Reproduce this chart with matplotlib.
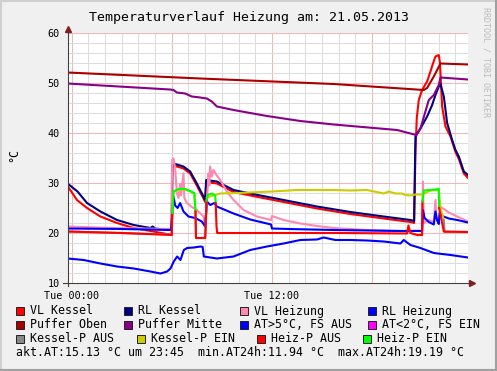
import numpy as np
import matplotlib
matplotlib.use("Agg")
import matplotlib.pyplot as plt
from matplotlib.patches import Rectangle
from matplotlib.lines import Line2D

# ---- Daten (Stunden ab 00:00, Werte in °C) ----
vlk_t = [-0.25, 0.32, 0.92, 1.72, 2.72, 3.72, 4.72, 5.72, 6.0, 6.03, 6.1, 6.7, 7.1, 7.5, 7.9, 8.0, 8.06,
         8.7, 9.7, 10.7, 12.7, 14.7, 16.7, 18.7, 20.3, 20.52, 20.6, 20.68, 20.8, 21.0, 21.3, 21.5, 21.65,
         21.8, 22.0, 22.07, 22.12, 22.2, 22.4, 22.7, 23.0, 23.2, 23.5, 23.75]
vlk_v = [29.4, 26.6, 25.0, 23.3, 22.0, 21.0, 20.4, 19.8, 19.6, 33.2, 33.5, 32.9, 31.9, 29.5, 26.9, 26.2, 30.2,
         29.9, 28.2, 27.5, 26.2, 24.9, 23.8, 22.9, 22.2, 22.0, 36.0, 43.0, 46.6, 48.6, 50.3, 52.3, 53.9,
         55.3, 55.6, 54.0, 50.6, 45.3, 41.3, 39.3, 36.2, 34.8, 31.9, 31.0]

rlk_t = [-0.25, 0.35, 0.92, 1.72, 2.72, 3.72, 4.72, 4.85, 5.0, 5.72, 6.0, 6.03, 6.1, 6.7, 7.1, 7.5, 7.9, 8.0,
         8.06, 8.7, 9.7, 10.7, 12.7, 14.7, 16.7, 18.7, 20.3, 20.52, 20.6, 20.9, 21.3, 21.6, 21.8, 22.0,
         22.1, 22.3, 22.5, 22.8, 23.0, 23.2, 23.5, 23.75]
rlk_v = [29.9, 28.3, 26.0, 24.3, 22.6, 21.6, 21.0, 21.3, 20.9, 20.6, 20.6, 33.5, 33.9, 33.3, 32.3, 29.9, 27.3, 26.6,
         30.6, 30.3, 28.6, 27.9, 26.6, 25.3, 24.2, 23.3, 22.6, 22.4, 39.3, 40.9, 43.3, 45.6, 47.6, 49.3,
         49.8, 47.3, 42.0, 38.6, 36.6, 35.3, 32.3, 31.6]

vlh_t = [-0.25, 2.5, 5.95, 6.03, 6.1, 6.2, 6.3, 6.4, 6.5, 6.55, 6.7, 6.75, 6.9, 7.2, 7.5, 7.9, 8.0, 8.1, 8.2,
         8.25, 8.3, 8.4, 8.5, 8.7, 8.9, 9.3, 9.7, 10.3, 11.1, 11.95, 12.0, 12.7, 13.7, 14.7, 15.7, 17.7,
         19.7, 21.0, 21.05, 21.1, 21.4, 21.7, 21.8, 21.85, 22.0, 22.1, 22.3, 22.6, 23.1, 23.75]
vlh_v = [21.3, 21.0, 20.8, 34.6, 34.9, 33.0, 28.0, 27.0, 29.8, 27.5, 31.9, 27.0, 26.0, 25.2, 24.6, 23.3, 21.3, 26.0,
         31.9, 29.5, 33.3, 31.3, 32.6, 31.5, 30.6, 28.3, 26.6, 24.6, 23.3, 22.6, 23.4, 22.6, 21.9, 21.4,
         21.0, 20.6, 20.4, 20.5, 30.3, 22.0, 22.6, 22.2, 26.6, 23.0, 22.5, 25.2, 24.8, 24.1, 23.3, 22.3]

rlh_t = [-0.25, 3.0, 5.95, 6.03, 6.1, 6.2, 6.35, 6.5, 6.7, 7.0, 7.4, 7.8, 8.0, 8.1, 8.3, 8.55, 8.7, 9.7, 10.7,
         11.95, 12.0, 13.0, 15.7, 19.7, 21.0, 21.05, 21.15, 21.4, 21.7, 21.8, 21.9, 22.0, 22.05, 22.2,
         22.6, 23.1, 23.75]
rlh_v = [20.9, 20.8, 20.6, 24.0, 27.3, 25.5, 25.0, 26.0, 24.3, 23.3, 23.0, 22.3, 21.3, 26.3, 25.6, 26.0, 25.3,
         23.9, 22.7, 21.7, 20.9, 20.8, 20.6, 20.4, 20.4, 24.6, 23.0, 22.2, 21.7, 24.3, 22.5, 21.8, 24.0,
         23.4, 22.9, 22.6, 22.1]

po_t = [-0.25, 7.7, 15.7, 21.1, 21.3, 21.7, 22.1, 23.75]
po_v = [52.1, 50.9, 49.8, 48.6, 49.0, 51.3, 53.9, 53.7]

pm_t = [-0.25, 5.9, 6.1, 6.3, 6.8, 7.2, 7.7, 8.1, 8.4, 8.7, 9.7, 11.7, 13.7, 15.7, 19.5, 20.65, 20.9, 21.4,
        21.7, 22.0, 22.1, 23.75]
pm_v = [49.9, 48.7, 48.6, 48.1, 47.9, 47.3, 47.1, 46.9, 46.3, 45.3, 44.6, 43.4, 42.4, 41.7, 40.6, 39.6, 40.9,
        46.6, 47.6, 49.6, 51.1, 50.7]

at_t = [-0.25, 0.72, 1.72, 2.72, 3.72, 4.72, 5.32, 5.72, 5.92, 6.12, 6.32, 6.52, 6.72, 6.92, 7.32, 7.72, 7.85,
        7.92, 8.7, 9.7, 10.7, 11.7, 12.7, 13.7, 14.7, 15.1, 15.8, 16.7, 17.7, 18.7, 19.7, 19.9, 20.3,
        20.9, 21.7, 22.7, 23.75]
at_v = [14.9, 14.6, 13.9, 13.3, 12.9, 12.3, 11.9, 12.3, 12.9, 14.3, 15.3, 14.6, 16.6, 17.0, 17.1, 17.3, 17.2,
        15.3, 14.9, 15.3, 16.6, 17.3, 17.9, 18.6, 18.7, 19.1, 18.6, 18.6, 18.5, 18.3, 17.9, 18.6, 17.6,
        17.0, 16.0, 15.6, 15.1]

# Kesselpumpe: 1 = EIN (Segment ab diesem Punkt)
kp_t = [-0.25, 6.0, 6.03, 6.1, 6.4, 6.8, 7.1, 7.35, 7.42, 7.45, 8.0, 8.03, 8.1, 8.3, 8.9, 10.0, 12.0, 13.5,
        15.7, 16.7, 17.7, 18.7, 19.0, 19.4, 19.8, 20.0, 20.3, 20.6, 21.0, 21.5, 22.0, 22.1, 22.3, 22.35, 23.75]
kp_v = [20.3, 19.7, 24.0, 28.2, 28.7, 28.7, 28.3, 27.9, 24.2, 19.0, 19.0, 21.3, 27.0, 27.3, 27.9, 28.0, 28.3, 28.6,
        28.6, 28.5, 28.6, 27.9, 28.3, 27.9, 27.9, 27.6, 27.5, 27.7, 27.7, 28.5, 28.6, 25.0, 22.6, 20.2, 20.2]
kp_on = [0, 0, 1, 1, 1, 1, 1, 1, 0, 0, 0, 0, 1, 1, 1, 1, 1, 1,
         1, 1, 1, 1, 1, 1, 1, 1, 1, 1, 1, 1, 1, 1, 0, 0, 0]

# Heizungspumpe
hp_t = [-0.25, 3.0, 6.0, 6.03, 6.1, 6.4, 6.8, 7.1, 7.35, 7.42, 7.45, 8.0, 8.03, 8.08, 8.15, 8.4, 8.6, 8.63,
        8.68, 8.72, 12.0, 16.0, 20.1, 20.18, 20.3, 20.7, 21.0, 21.02, 21.1, 21.5, 22.0, 22.02, 22.3, 23.75]
hp_v = [20.3, 20.0, 19.6, 24.0, 28.3, 28.8, 28.8, 28.4, 28.0, 24.3, 19.0, 19.0, 21.0, 26.5, 27.6, 27.9, 27.5, 26.0,
        21.3, 20.0, 20.0, 20.0, 19.9, 21.5, 20.0, 19.6, 19.6, 26.3, 28.5, 28.6, 28.8, 25.0, 20.3, 20.2]
hp_on = [0, 0, 0, 1, 1, 1, 1, 1, 1, 0, 0, 0, 0, 1, 1, 1, 1, 0,
         0, 0, 0, 0, 0, 0, 0, 0, 0, 1, 1, 1, 1, 0, 0, 0]

legend_rows = [
    [("VL Kessel", "#FF0000"), ("RL Kessel", "#000080"), ("VL Heizung", "#FF88B0"), ("RL Heizung", "#0000FF")],
    [("Puffer Oben", "#AA0000"), ("Puffer Mitte", "#880088"), ("AT>5°C, FS AUS", "#0000FF"), ("AT<2°C, FS EIN", "#FF00FF")],
    [("Kessel-P AUS", "#888888"), ("Kessel-P EIN", "#CCCC00"), ("Heiz-P AUS", "#FF0000"), ("Heiz-P EIN", "#00FF00")],
]
stats = "akt.AT:15.13 °C um 23:45  min.AT24h:11.94 °C  max.AT24h:19.19 °C"

# ---- Zeichnen ----
W, H = 497, 371
def fx(x): return x / W
def fy(y): return 1 - y / H

plt.rcParams["font.family"] = ["DejaVu Sans Mono"]
LW = 1.5

fig = plt.figure(figsize=(W / 100, H / 100), dpi=100, facecolor="#F0F0F0")
ax = fig.add_axes([fx(67.5), fy(283), (468 - 67.5) / W, (283 - 33) / H])
ax.set_facecolor("white")
ax.set_xlim(-0.25, 23.75)
ax.set_ylim(10, 60)

# Gitter
for h in range(0, 24):
    ax.axvline(h, color="#F0B8B8" if h % 6 == 0 else "#DDDDDD", lw=0.75, zorder=0.5)
for v in range(12, 61, 2):
    ax.axhline(v, color="#F0B8B8" if v % 10 == 0 else "#DDDDDD", lw=0.75, zorder=0.5)


def plot_state(t, v, on, c_off, c_on):
    start = 0
    for i in range(1, len(t)):
        if i == len(t) - 1 or on[i] != on[start]:
            ax.plot(t[start:i + 1], v[start:i + 1], color=c_on if on[start] else c_off, lw=LW, zorder=2)
            start = i


ax.plot(vlk_t, vlk_v, color="#FF0000", lw=LW, zorder=2)
ax.plot(rlk_t, rlk_v, color="#000080", lw=LW, zorder=2)
ax.plot(vlh_t, vlh_v, color="#FF88B0", lw=LW, zorder=2)
ax.plot(rlh_t, rlh_v, color="#0000FF", lw=LW, zorder=2)
ax.plot(po_t, po_v, color="#AA0000", lw=LW, zorder=2)
ax.plot(pm_t, pm_v, color="#880088", lw=LW, zorder=2)
ax.plot(at_t, at_v, color="#0000FF", lw=LW, zorder=2)
plot_state(kp_t, kp_v, kp_on, "#888888", "#CCCC00")
plot_state(hp_t, hp_v, hp_on, "#FF0000", "#00FF00")

# Achsen
for s in ax.spines.values():
    s.set_visible(False)
ax.plot([0, 0], [-0.012, 1.015], color="#404040", lw=0.8, transform=ax.transAxes, clip_on=False, zorder=3)
ax.plot([-0.01, 1.01], [0, 0], color="#404040", lw=0.8, transform=ax.transAxes, clip_on=False, zorder=3)
ax.plot([0], [1.016], marker="^", ms=4, color="#7F1F1F", transform=ax.transAxes, clip_on=False, zorder=3)
ax.plot([1.01], [0], marker=">", ms=4, color="#7F1F1F", transform=ax.transAxes, clip_on=False, zorder=3)

ax.set_xticks([0, 12], ["Tue 00:00", "Tue 12:00"])
ax.set_yticks(range(10, 61, 10))
ax.tick_params(axis="both", length=0, labelsize=7.3, pad=5.5)

fig.text(fx(249), fy(17), "Temperaturverlauf Heizung am: 21.05.2013", ha="center", va="center", fontsize=9.5)
fig.text(fx(14), fy(155), "°C", rotation=90, ha="center", va="center", fontsize=8.4)
fig.text(fx(486), fy(7), "RRDTOOL / TOBI OETIKER", rotation=270, ha="center", va="top",
         fontsize=6, color="#BBBBBB")

# Legende
sq_x = [[16, 124, 240, 368], [16, 124, 240, 368], [16, 137, 257, 363]]
row_y = [311, 325, 339]
for r, row in enumerate(legend_rows):
    for c, (lab, col) in enumerate(row):
        x0 = sq_x[r][c]
        fig.add_artist(Rectangle((fx(x0), fy(row_y[r] + 4)), 8 / W, 8 / H, facecolor=col,
                                 edgecolor="#222222", lw=0.7, transform=fig.transFigure))
        fig.text(fx(x0 + 14), fy(row_y[r]), lab, ha="left", va="center", fontsize=8.4)
fig.text(fx(16), fy(353), stats, ha="left", va="center", fontsize=8.4)

# Rahmen
fig.add_artist(Line2D([0, 1], [1 - 1 / H, 1 - 1 / H], color="#D0D0D0", lw=1.5, transform=fig.transFigure))
fig.add_artist(Line2D([1 / W, 1 / W], [0, 1], color="#D0D0D0", lw=1.5, transform=fig.transFigure))
fig.add_artist(Line2D([0, 1], [1 / H, 1 / H], color="#A0A0A0", lw=1.5, transform=fig.transFigure))
fig.add_artist(Line2D([1 - 1 / W, 1 - 1 / W], [0, 1], color="#A0A0A0", lw=1.5, transform=fig.transFigure))

fig.savefig("out.png", dpi=100, facecolor=fig.get_facecolor())
